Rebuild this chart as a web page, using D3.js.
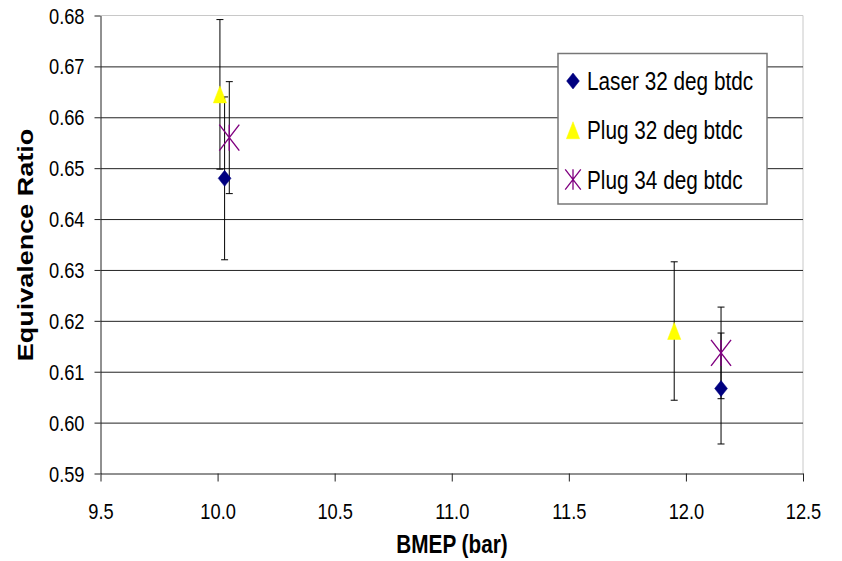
<!DOCTYPE html>
<html>
<head>
<meta charset="utf-8">
<script src="https://cdn.jsdelivr.net/npm/d3@7"></script>
<style>
  body { margin: 0; background: #fff; }
  svg { display: block; font-family: "Liberation Sans", Arial, sans-serif; }
</style>
</head>
<body>
<svg width="842" height="561"></svg>
<script>
// series values
var seriesNames = ['Laser 32 deg btdc', 'Plug 32 deg btdc', 'Plug 34 deg btdc'];
var laserBmep = [10.03, 12.15],
  laserEq = [0.648, 0.6067],
  laserErr = [0.016, 0.0109];
var plug32Bmep = [10.01, 11.95],
  plug32Eq = [0.6645, 0.618],
  plug32Err = [0.0147, 0.0136];
var plug34Bmep = [10.05, 12.15],
  plug34Eq = [0.656, 0.6137],
  plug34Err = [0.011, 0.009];
var xTicks = [9.5, 10.0, 10.5, 11.0, 11.5, 12.0, 12.5];
var yTicks = [0.59, 0.60, 0.61, 0.62, 0.63, 0.64, 0.65, 0.66, 0.67, 0.68];

var svg = d3.select('svg'),
  squeeze = 0.83, // the picture is narrower than it is tall
  plot = { left: 100.5, right: 803, top: 15.5, bottom: 473.5 };

var xScale = d3.scaleLinear().domain([9.5, 12.5]).range([plot.left, plot.right]),
  yScale = d3.scaleLinear().domain([0.59, 0.68]).range([plot.bottom, plot.top]);

var series = [
  { name: seriesNames[0], x: laserBmep, y: laserEq, err: laserErr, shape: 'diamond', color: '#000080' },
  { name: seriesNames[1], x: plug32Bmep, y: plug32Eq, err: plug32Err, shape: 'triangle', color: '#FFFF00' },
  { name: seriesNames[2], x: plug34Bmep, y: plug34Eq, err: plug34Err, shape: 'star', color: '#800080' }
];

function markerPath(shape, s) {
  s = s || 1;
  if (shape === 'diamond') {
    var w = 6.4 * s, h = 8 * s;
    return `M0,${-h}L${w},0L0,${h}L${-w},0Z`;
  }
  if (shape === 'triangle') {
    var w2 = 6.6 * s, h2 = 8.5 * s;
    return `M0,${-h2}L${w2},${h2}L${-w2},${h2}Z`;
  }
  var a = 10 * s, b = 13 * s;
  return `M${-a},${-b}L${a},${b}M${a},${-b}L${-a},${b}M0,${-b}L0,${b}`;
}

// plot frame (light grey top and right)
svg.append('path')
  .attr('d', `M${plot.left},${plot.top}H${plot.right}V${plot.bottom}`)
  .attr('fill', 'none')
  .attr('stroke', '#c8c8c8');

// horizontal gridlines
var grid = svg.append('g')
  .attr('transform', `translate(${plot.left},0)`)
  .call(d3.axisLeft(yScale).tickValues(yTicks.slice(1, -1)).tickSize(-(plot.right - plot.left)).tickFormat(''));
grid.select('.domain').remove();
grid.selectAll('line').attr('stroke', '#222');

// y axis
var yAxis = svg.append('g')
  .attr('transform', `translate(${plot.left},0)`)
  .call(d3.axisLeft(yScale).tickValues(yTicks).tickSize(6).tickSizeOuter(0).tickFormat(d3.format('.2f')));
yAxis.select('.domain').attr('stroke', '#222');
yAxis.selectAll('line').attr('stroke', '#222');
yAxis.selectAll('text')
  .attr('x', null).attr('dy', null)
  .attr('transform', `translate(-16,7.5) scale(${squeeze},1)`)
  .attr('text-anchor', 'end')
  .attr('fill', '#000')
  .style('font-size', '22px');

// x axis
var xAxis = svg.append('g')
  .attr('transform', `translate(0,${plot.bottom})`)
  .call(d3.axisBottom(xScale).tickValues(xTicks).tickSize(8).tickSizeOuter(0).tickFormat(d3.format('.1f')));
xAxis.select('.domain').attr('stroke', '#222');
xAxis.selectAll('line').attr('stroke', '#222');
xAxis.selectAll('text')
  .attr('y', null).attr('dy', null)
  .attr('transform', `translate(0,45) scale(${squeeze},1)`)
  .attr('fill', '#000')
  .style('font-size', '22px');

// axis titles
svg.append('text')
  .attr('transform', `translate(452,553) scale(${squeeze},1)`)
  .attr('text-anchor', 'middle')
  .style('font-size', '25px')
  .style('font-weight', 'bold')
  .text('BMEP (bar)');

svg.append('text')
  .attr('transform', `translate(33,245) scale(${squeeze},1) rotate(-90)`)
  .attr('text-anchor', 'middle')
  .style('font-size', '27px')
  .style('font-weight', 'bold')
  .text('Equivalence Ratio');

// error bars then markers
series.forEach(function (s) {
  var pts = s.x.map((d, i) => ({ x: d, y: s.y[i], e: s.err[i] }));
  var eb = svg.append('g').attr('stroke', '#000').attr('stroke-width', 1);
  eb.selectAll('.bar').data(pts).enter().append('path')
    .attr('d', function (d) {
      var cx = xScale(d.x), y0 = yScale(d.y + d.e), y1 = yScale(d.y - d.e);
      return `M${cx},${y0}V${y1}M${cx - 3.5},${y0}H${cx + 3.5}M${cx - 3.5},${y1}H${cx + 3.5}`;
    });
});

series.forEach(function (s) {
  var pts = s.x.map((d, i) => ({ x: d, y: s.y[i] }));
  svg.append('g').selectAll('path').data(pts).enter().append('path')
    .attr('transform', (d) => `translate(${xScale(d.x)},${yScale(d.y)})`)
    .attr('d', markerPath(s.shape))
    .attr('fill', s.shape === 'star' ? 'none' : s.color)
    .attr('stroke', s.color)
    .attr('stroke-width', s.shape === 'star' ? 1.4 : 0.5);
});

// legend
var legend = svg.append('g');
legend.append('rect')
  .attr('x', 558).attr('y', 53.5)
  .attr('width', 209).attr('height', 150.5)
  .attr('fill', '#fff')
  .attr('stroke', '#777')
  .attr('stroke-width', 1.5);

var rowY = d3.scalePoint().domain(seriesNames).range([81, 179.5]);
var rows = legend.selectAll('.row').data(series).enter().append('g')
  .attr('transform', (d) => `translate(573,${rowY(d.name)})`);
rows.append('path')
  .attr('d', (d) => markerPath(d.shape, d.shape === 'star' ? 0.78 : 1))
  .attr('fill', (d) => d.shape === 'star' ? 'none' : d.color)
  .attr('stroke', (d) => d.color)
  .attr('stroke-width', (d) => d.shape === 'star' ? 1.3 : 0.5);
rows.append('text')
  .attr('transform', `translate(14,9) scale(${squeeze},1)`)
  .style('font-size', '25px')
  .text((d) => d.name);
</script>
</body>
</html>
